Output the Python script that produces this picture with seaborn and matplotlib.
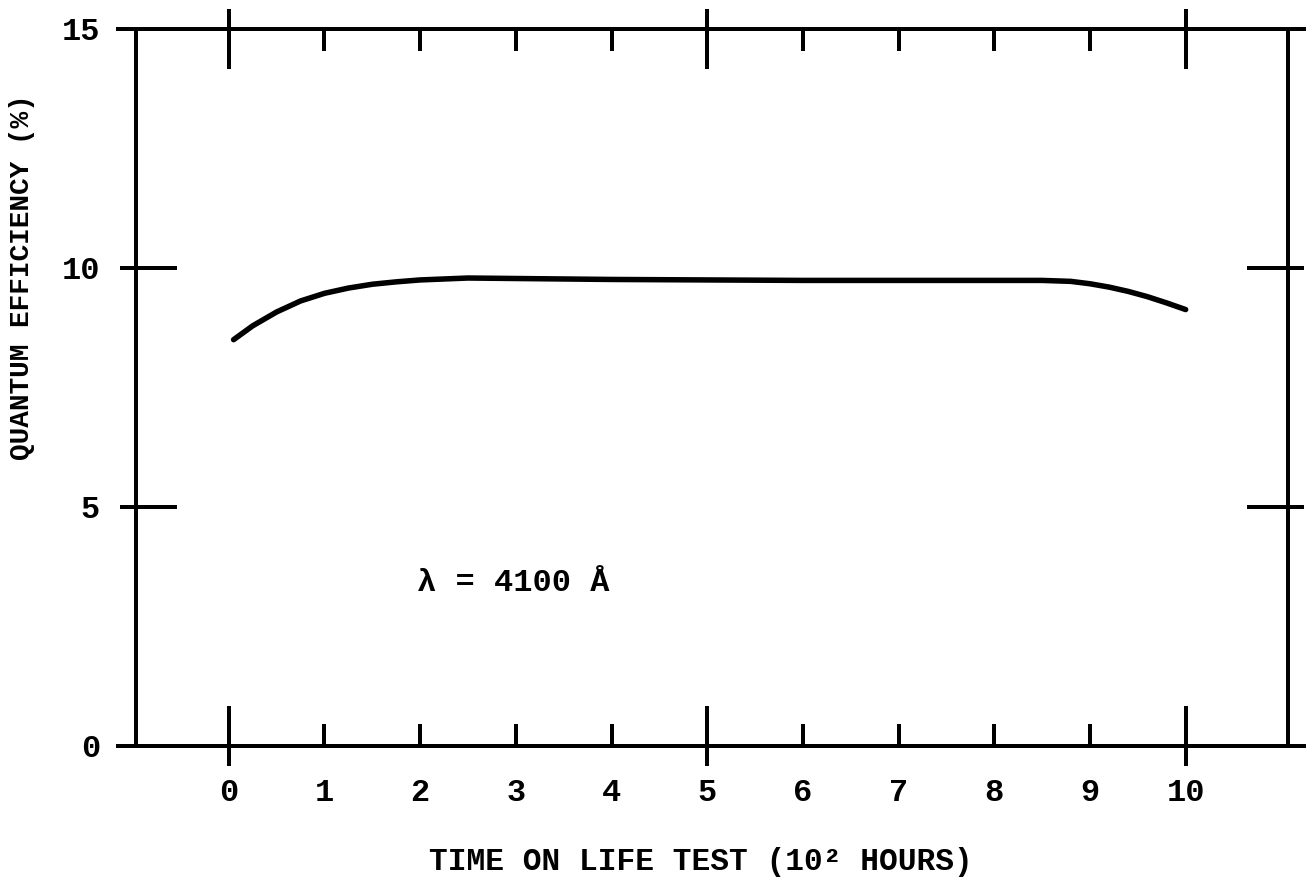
import matplotlib
matplotlib.use("Agg")
import matplotlib.pyplot as plt
import seaborn as sns
import numpy as np

# ---- data ----
time_hours = [0.05, 0.25, 0.5, 0.75, 1.0, 1.25, 1.5, 1.75, 2.0, 2.5, 3.0, 4.0, 5.0, 6.0, 7.0, 8.0,
              8.5, 8.8, 9.0, 9.2, 9.4, 9.6, 9.8, 10.0]
quantum_eff = [8.5, 8.79, 9.08, 9.31, 9.47, 9.58, 9.66, 9.71, 9.75, 9.79, 9.78, 9.76, 9.75, 9.74, 9.74, 9.74,
               9.74, 9.72, 9.67, 9.6, 9.51, 9.4, 9.27, 9.13]
x_ticks = [0, 1, 2, 3, 4, 5, 6, 7, 8, 9, 10]
x_major = [0, 5, 10]
y_ticks = [0, 5, 10, 15]
y_labels = ["0", "5", "10", "15"]
annotation = "\u03bb = 4100 \u00c5"
xlabel = "TIME ON LIFE TEST (10\u00b2 HOURS)"
ylabel = "QUANTUM EFFICIENCY (%)"

sns.set_theme(style="white")
plt.rcParams["font.family"] = ["Liberation Mono", "DejaVu Sans Mono"]
plt.rcParams["font.weight"] = "bold"
plt.rcParams["text.color"] = "black"
plt.rcParams["axes.labelcolor"] = "black"
plt.rcParams["xtick.color"] = "black"
plt.rcParams["ytick.color"] = "black"
plt.rcParams["xtick.labelcolor"] = "black"
plt.rcParams["ytick.labelcolor"] = "black"

PX = 72.0 / 100.0  # points per pixel at dpi 100

fig = plt.figure(figsize=(13.15, 8.92), dpi=100)
fig.patch.set_facecolor("white")
ax = fig.add_axes([0.1034, 0.1637, 0.8761, 0.8038])
ax.set_facecolor("white")

sns.lineplot(x=time_hours, y=quantum_eff, color="black", linewidth=5.5 * PX, ax=ax,
             solid_capstyle="round", solid_joinstyle="round")

ax.set_xlim(-0.97, 11.07)
ax.set_ylim(0, 15)

for side in ["left", "right", "top", "bottom"]:
    ax.spines[side].set_visible(True)
    ax.spines[side].set_color("black")
    ax.spines[side].set_linewidth(4 * PX)
ax.spines["top"].set_bounds(-1.16, 11.24)
ax.spines["bottom"].set_bounds(-1.16, 11.24)

# x ticks: short inward on every unit, longer inward on 0/5/10
ax.set_xticks(x_ticks)
ax.set_xticklabels([str(v) for v in x_ticks])
ax.set_xticks(x_major, minor=True)
ax.xaxis.remove_overlapping_locs = False
ax.tick_params(axis="x", which="major", direction="in", length=22 * PX, width=4 * PX,
               top=True, bottom=True, pad=32 * PX, labelsize=23, color="black", labelcolor="black")
ax.tick_params(axis="x", which="minor", direction="in", length=40 * PX, width=4 * PX,
               top=True, bottom=True, color="black")

# y ticks: inward on both sides
ax.set_yticks(y_ticks)
ax.set_yticklabels(y_labels)
ax.tick_params(axis="y", which="major", direction="in", length=41 * PX, width=4 * PX,
               left=True, right=True, pad=36 * PX, labelsize=23, color="black", labelcolor="black")
ax.tick_params(axis="y", which="minor", left=False, right=False)

# outward parts of the crossing ticks
for loc in ["bottom", "top"]:
    sec = ax.secondary_xaxis(loc)
    sec.set_xticks(x_major)
    sec.set_xticklabels([])
    sec.tick_params(direction="out", length=20 * PX, width=4 * PX, color="black")
    for s in sec.spines.values():
        s.set_visible(False)
for loc in ["left", "right"]:
    sec = ax.secondary_yaxis(loc)
    sec.set_yticks([5, 10])
    sec.set_yticklabels([])
    sec.tick_params(direction="out", length=16 * PX, width=4 * PX, color="black")
    for s in sec.spines.values():
        s.set_visible(False)

ax.set_xlabel(xlabel, fontsize=22.5, fontweight="bold", va="center", color="black")
ax.xaxis.set_label_coords(0.49, -0.162)
ax.set_ylabel(ylabel, fontsize=20, fontweight="bold", va="center", color="black")
ax.yaxis.set_label_coords(-0.099, 0.654)

ax.text(1.97, 3.4, annotation, fontsize=23, fontweight="bold", ha="left", va="center", color="black")

fig.savefig("out.png", dpi=100, facecolor="white")
